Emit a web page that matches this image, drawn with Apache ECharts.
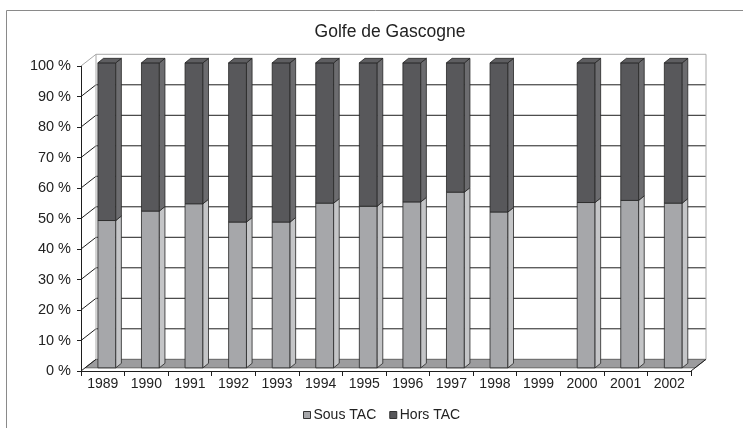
<!DOCTYPE html>
<html>
<head>
<meta charset="utf-8">
<title>Golfe de Gascogne</title>
<script src="https://cdn.jsdelivr.net/npm/echarts@6/dist/echarts.min.js"></script>
<style>
html, body { margin: 0; padding: 0; background: #fff; }
#chart { width: 743px; height: 428px; }
</style>
</head>
<body>
<div id="chart"></div>
<script>
// values (%), 1999 has no data
const years = ['1989', '1990', '1991', '1992', '1993', '1994', '1995', '1996', '1997', '1998', '1999', '2000', '2001', '2002'];
const sousTac = [48.3, 51.4, 53.8, 47.8, 47.8, 54.0, 53.0, 54.4, 57.6, 51.1, null, 54.2, 54.9, 54.0];
const horsTac = [51.7, 48.6, 46.2, 52.2, 52.2, 46.0, 47.0, 45.6, 42.4, 48.9, null, 45.8, 45.1, 46.0];
const yTicks = [0, 10, 20, 30, 40, 50, 60, 70, 80, 90, 100];

// fake 3D look
const DEPTH_X = 15;
const DEPTH_Y = -11.7;
const BAR_POS = 0.27;     // where the bar front sits inside the depth
const BAR_DX = 5.6;       // bar thickness
const BAR_DY = -4.5;
const BAR_RATIO = 0.41;

const COLORS = {
    sousFront: '#a6a7aa',
    sousSide: '#c4c5c7',
    horsFront: '#58585b',
    horsSide: '#6c6c6f',
    horsTop: '#5e5e61',
    edge: '#262626',
    floor: '#9c9c9e',
    wall: '#a8a8a8'
};

function renderFrame(params, api) {
    const v = api.value(1);
    const catW = api.size([1, 0])[0];
    const p0 = api.coord([0, v]);
    const xL = p0[0] - catW / 2;
    const xR = api.coord([years.length - 1, v])[0] + catW / 2;
    const y = p0[1];
    const isTop = v === 100;
    const col = isTop ? COLORS.wall : '#1e1e1e';
    const children = [];

    if (v === 0) {
        children.push({
            type: 'polygon',
            shape: {points: [
                [xL + DEPTH_X, y + DEPTH_Y],
                [xR + DEPTH_X, y + DEPTH_Y],
                [xR + BAR_POS * DEPTH_X, y + BAR_POS * DEPTH_Y],
                [xL + BAR_POS * DEPTH_X, y + BAR_POS * DEPTH_Y]
            ]},
            style: {fill: COLORS.floor, stroke: '#4a4a4a', lineWidth: 0.8}
        });
        children.push({
            type: 'line',
            shape: {x1: xR, y1: y, x2: xR + DEPTH_X, y2: y + DEPTH_Y},
            style: {stroke: '#1e1e1e', lineWidth: 1}
        });
    } else {
        children.push({
            type: 'line',
            shape: {x1: xL + DEPTH_X, y1: y + DEPTH_Y, x2: xR + DEPTH_X, y2: y + DEPTH_Y},
            style: {stroke: col, lineWidth: 1}
        });
    }
    children.push({
        type: 'line',
        shape: {x1: xL, y1: y, x2: xL + DEPTH_X, y2: y + DEPTH_Y},
        style: {stroke: col, lineWidth: 1}
    });
    if (isTop) {
        const yb = api.coord([0, 0])[1] + DEPTH_Y;
        children.push({
            type: 'line',
            shape: {x1: xL + DEPTH_X, y1: y + DEPTH_Y, x2: xL + DEPTH_X, y2: yb},
            style: {stroke: COLORS.wall, lineWidth: 1}
        });
        children.push({
            type: 'line',
            shape: {x1: xR + DEPTH_X, y1: y + DEPTH_Y, x2: xR + DEPTH_X, y2: yb},
            style: {stroke: COLORS.wall, lineWidth: 1}
        });
    }
    return {type: 'group', children: children};
}

function barRenderer(front, side, top) {
    return function (params, api) {
        const i = api.value(0);
        const lo = api.coord([i, api.value(1)]);
        const hi = api.coord([i, api.value(2)]);
        const w = api.size([1, 0])[0] * BAR_RATIO;
        const x1 = lo[0] + BAR_POS * DEPTH_X - w / 2;
        const x2 = x1 + w;
        const yb = lo[1] + BAR_POS * DEPTH_Y;
        const yt = hi[1] + BAR_POS * DEPTH_Y;
        const edge = {stroke: COLORS.edge, lineWidth: 0.8};
        const children = [
            {type: 'rect', shape: {x: x1, y: yt, width: w, height: yb - yt},
                style: Object.assign({fill: front}, edge)},
            {type: 'polygon', shape: {points: [[x2, yb], [x2 + BAR_DX, yb + BAR_DY], [x2 + BAR_DX, yt + BAR_DY], [x2, yt]]},
                style: Object.assign({fill: side}, edge)}
        ];
        if (top) {
            children.push({type: 'polygon',
                shape: {points: [[x1, yt], [x2, yt], [x2 + BAR_DX, yt + BAR_DY], [x1 + BAR_DX, yt + BAR_DY]]},
                style: Object.assign({fill: top}, edge)});
        }
        return {type: 'group', children: children};
    };
}

const sousData = [];
const horsData = [];
years.forEach((y, i) => {
    if (sousTac[i] == null) return;
    sousData.push([i, 0, sousTac[i]]);
    horsData.push([i, sousTac[i], sousTac[i] + horsTac[i]]);
});

const chart = echarts.init(document.getElementById('chart'), null, {renderer: 'canvas'});

const option = {
    backgroundColor: '#fff',
    animation: false,
    title: {
        text: 'Golfe de Gascogne',
        left: 390,
        textAlign: 'center',
        top: 23,
        padding: 0,
        textStyle: {fontFamily: 'Liberation Sans', fontSize: 17.5, fontWeight: 'normal', color: '#222'}
    },
    legend: {
        left: 303,
        top: 408,
        padding: 0,
        itemWidth: 7,
        itemHeight: 7,
        itemGap: 13,
        data: [{name: 'Sous TAC', icon: 'rect'}, {name: 'Hors TAC', icon: 'rect'}],
        itemStyle: {borderColor: '#333', borderWidth: 1},
        textStyle: {fontFamily: 'Liberation Sans', fontSize: 14, color: '#222', padding: [0, 0, 0, -2]}
    },
    grid: {left: 81, right: 52, top: 66, bottom: 57, containLabel: false},
    xAxis: {
        type: 'category',
        data: years,
        boundaryGap: true,
        axisLine: {lineStyle: {color: '#1e1e1e', width: 1}},
        axisTick: {show: true, interval: 0, length: 5, lineStyle: {color: '#1e1e1e'}},
        axisLabel: {interval: 0, margin: 6, fontFamily: 'Liberation Sans', fontSize: 14, color: '#222'},
        splitLine: {show: false}
    },
    yAxis: {
        type: 'value',
        min: 0,
        max: 100,
        interval: 10,
        axisLine: {show: true, lineStyle: {color: '#1e1e1e', width: 1}},
        axisTick: {show: true, length: 4, lineStyle: {color: '#1e1e1e'}},
        axisLabel: {margin: 10, formatter: '{value} %', fontFamily: 'Liberation Sans', fontSize: 14.5, color: '#222'},
        splitLine: {show: false}
    },
    graphic: [{
        type: 'rect',
        silent: true,
        shape: {x: 6.5, y: 10.5, width: 800, height: 500},
        style: {fill: 'none', stroke: '#8a8a8a', lineWidth: 1}
    }],
    series: [
        {
            type: 'custom',
            name: 'frame',
            z: 1,
            silent: true,
            renderItem: renderFrame,
            data: yTicks.map(v => [0, v])
        },
        {
            type: 'custom',
            name: 'Sous TAC',
            z: 2,
            itemStyle: {color: COLORS.sousFront},
            renderItem: barRenderer(COLORS.sousFront, COLORS.sousSide, null),
            data: sousData
        },
        {
            type: 'custom',
            name: 'Hors TAC',
            z: 2,
            itemStyle: {color: COLORS.horsFront},
            renderItem: barRenderer(COLORS.horsFront, COLORS.horsSide, COLORS.horsTop),
            data: horsData
        }
    ]
};

chart.setOption(option);
window.addEventListener('resize', chart.resize);
</script>
</body>
</html>
